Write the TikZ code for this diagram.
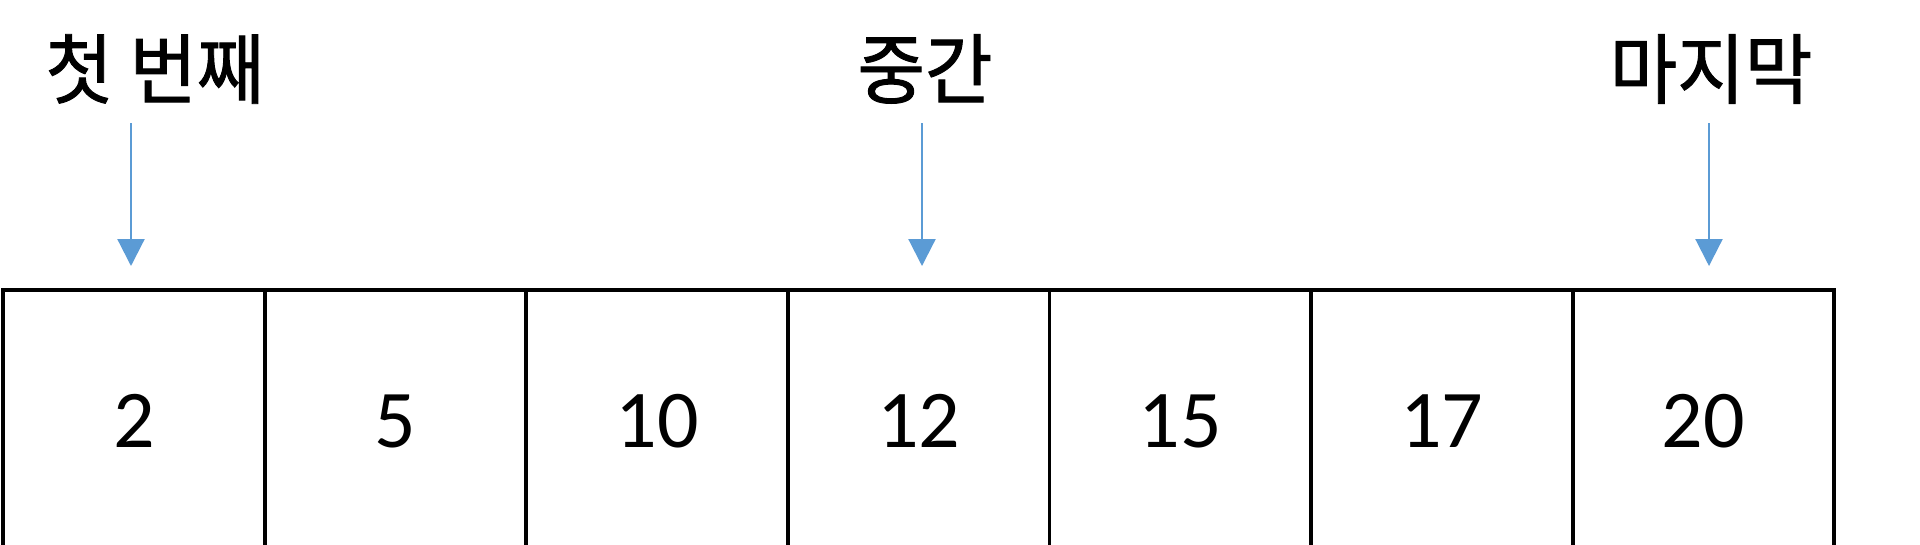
\documentclass[tikz,border=0pt]{standalone}
\usepackage{fontspec}
\setmainfont{Carlito}
\newfontfamily\kofont[FakeStretch=0.96,FakeBold=1.2]{Noto Sans CJK KR}
\usetikzlibrary{arrows.meta}
\definecolor{arrblue}{HTML}{5B9BD5}
\tikzset{
  cell/.style={draw=black, line width=3.8pt, anchor=north west, outer sep=0pt,
    minimum width=261.6pt, minimum height=262pt, inner sep=0pt,
    font=\fontsize{82}{82}\selectfont},
  lbl/.style={inner sep=0pt, font=\kofont\fontsize{76.5}{76.5}\selectfont},
  ptr/.style={draw=arrblue, line width=2.2pt, -{Triangle[length=27pt,width=27pt]}, shorten >=24pt}
}
\begin{document}
\begin{tikzpicture}[x=1pt,y=-1pt]
\useasboundingbox[fill=white] (0,0) rectangle (1920,544);
\node[cell] (c1) at (3,290) {2};
\node[cell] (c2) at (c1.north east) {5};
\node[cell] (c3) at (c2.north east) {10};
\node[cell] (c4) at (c3.north east) {12};
\node[cell] (c5) at (c4.north east) {15};
\node[cell] (c6) at (c5.north east) {17};
\node[cell] (c7) at (c6.north east) {20};
\node[lbl] (l1) at (155,69) {첫 번째};
\node[lbl] (l2) at (925,69) {중간};
\node[lbl] (l3) at (1711,69) {마지막};
\coordinate (t1) at (131,123);
\coordinate (t2) at (922,123);
\coordinate (t3) at (1709,123);
\draw[ptr] (t1) -- (t1 |- c1.north);
\draw[ptr] (t2) -- (t2 |- c4.north);
\draw[ptr] (t3) -- (t3 |- c7.north);
\end{tikzpicture}
\end{document}
